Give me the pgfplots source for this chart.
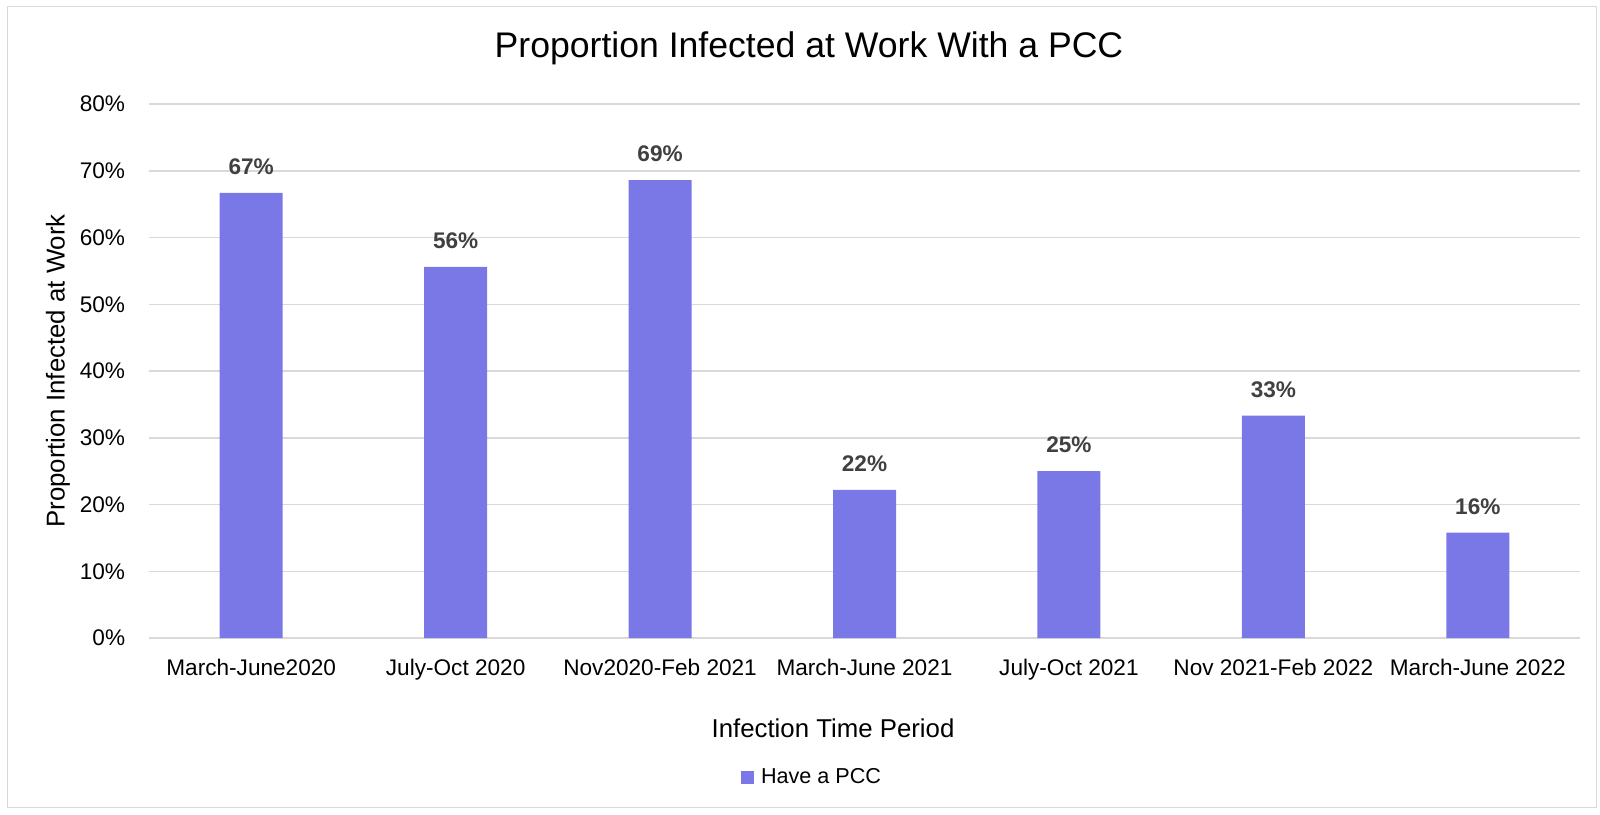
\documentclass[border=0pt]{standalone}
\usepackage{pgfplots}
\pgfplotsset{compat=1.18}
\usepackage{pgfplotstable}
\usepackage{fontspec}
\setmainfont{Liberation Sans}
\definecolor{barc}{HTML}{7A78E6}
\definecolor{gridc}{HTML}{D9D9D9}
\definecolor{labc}{HTML}{404040}
\pgfplotstableread{
x y lab
0 66.7 67
1 55.6 56
2 68.6 69
3 22.2 22
4 25.0 25
5 33.3 33
6 15.8 16
}\datatable
\begin{document}
\begin{tikzpicture}
\begin{axis}[
  at={(74.5pt,88pt)}, anchor=south west,
  scale only axis, width=715.5pt, height=267pt,
  xmin=-0.5, xmax=6.5, ymin=0, ymax=80,
  ybar,
  ytick={0,10,...,80},
  xtick={0,...,6},
  xticklabels={March-June2020, July-Oct 2020, Nov2020-Feb 2021, March-June 2021, July-Oct 2021, Nov 2021-Feb 2022, March-June 2022},
  yticklabel={\pgfmathprintnumber{\tick}\%},
  /pgf/number format/assume math mode=true,
  major tick length=0pt,
  axis line style={draw=none},
  ymajorgrids, xmajorgrids=false,
  major grid style={draw=gridc, line width=0.75pt},
  ticklabel style={font=\fontsize{11.3}{13}\selectfont, text=black},
  xticklabel style={anchor=base, inner sep=0pt, yshift=-18.75pt},
  yticklabel style={anchor=east, inner sep=0pt, xshift=-11.75pt},
  title={Proportion Infected at Work With a PCC},
  title style={at={(axis description cs:0.4612,1.0824)}, anchor=center, font=\fontsize{17.8}{21}\selectfont},
  xlabel={Infection Time Period},
  xlabel style={at={(axis description cs:0.478,-0.1697)}, anchor=center, font=\fontsize{12.9}{15}\selectfont},
  ylabel={Proportion Infected at Work},
  ylabel style={at={(axis description cs:-0.0636,0.5)}, anchor=center, font=\fontsize{12.9}{15}\selectfont},
  legend style={draw=none, fill=none, at={(axis description cs:0.464,-0.261)}, anchor=center, font=\fontsize{10.8}{13}\selectfont},
  legend image code/.code={\fill[barc] (0pt,-3.3pt) rectangle (6.6pt,3.3pt);},
  clip=false,
]
\addplot[fill=barc, draw=none, bar width=31.5pt,
  point meta=explicit symbolic,
  nodes near coords={\pgfplotspointmeta\%},
  every node near coord/.append style={anchor=base, yshift=9.2pt, font=\bfseries\fontsize{11.3}{13}\selectfont, text=labc},
] table[x=x, y=y, meta=lab]{\datatable};
\addlegendentry{\hspace{1.5pt}Have a PCC}
\end{axis}
\draw[gridc, line width=0.5pt] (3.5pt,3.5pt) rectangle (798pt,403.5pt);
\pgfresetboundingbox
\path[use as bounding box] (0,0) rectangle (800pt,407pt);
\end{tikzpicture}
\end{document}
